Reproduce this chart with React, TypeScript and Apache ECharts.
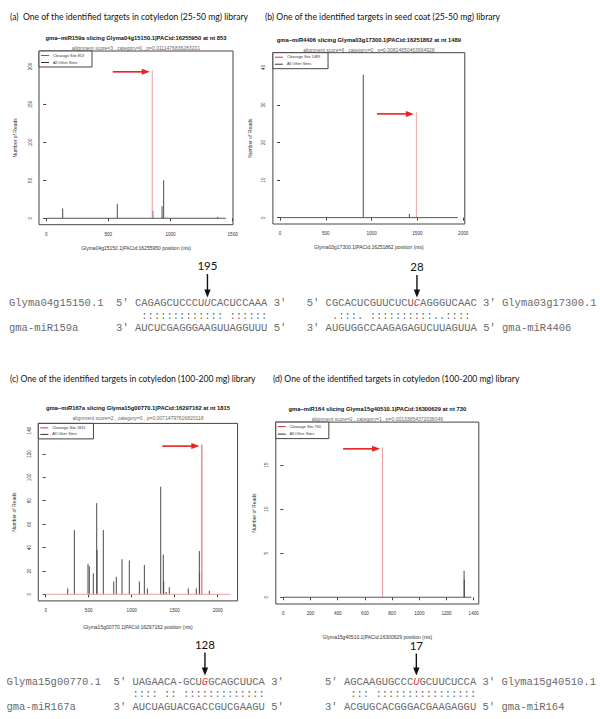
import React, { useEffect, useRef } from "react";
import * as echarts from "echarts";

// ================= degradome plot data =================
// (a) gma-miR159a / Glyma04g15150.1
const aTranscriptLength = 1445;
const aCleavageSite = [853];
const aCleavageReads = [195];
const aOtherSites = [133, 572, 858, 932, 945, 1380];
const aOtherReads = [13, 19, 10, 16, 50, 2];
const aXTicks = [0, 500, 1000, 1500];
const aYTicks = [0, 50, 100, 150, 200];

// (b) gma-miR4406 / Glyma03g17300.1
const bTranscriptLength = 1940;
const bCleavageSite = [1489];
const bCleavageReads = [28];
const bOtherSites = [909, 1412];
const bOtherReads = [38, 1];
const bXTicks = [0, 500, 1000, 1500, 2000];
const bYTicks = [0, 10, 20, 30, 40];

// (c) gma-miR167a / Glyma15g00770.1
const cTranscriptLength = 2145;
const cCleavageSite = [1815];
const cCleavageReads = [128];
const cOtherSites = [256, 333, 492, 507, 554, 593, 597, 670, 791, 821, 887, 972, 1089, 1147, 1182, 1337, 1367, 1372, 1400, 1437, 1658, 1751, 1786, 1789, 1902];
const cOtherReads = [5, 55, 26, 24, 18, 78, 38, 55, 11, 15, 30, 29, 11, 25, 5, 92, 34, 11, 2, 6, 5, 5, 37, 18, 3];
const cXTicks = [0, 500, 1000, 1500, 2000];
const cYTicks = [0, 20, 40, 60, 80, 100, 120, 140];

// (d) gma-miR164 / Glyma15g40510.1
const dTranscriptLength = 1382;
const dCleavageSite = [730];
const dCleavageReads = [17];
const dOtherSites = [1329, 1331];
const dOtherReads = [3, 2];
const dXTicks = [0, 200, 400, 600, 800, 1000, 1200, 1400];
const dYTicks = [0, 5, 10, 15];

// ================= texts =================
const panelHeaders = [
  "(a)  One of the identified targets in cotyledon (25-50 mg) library",
  "(b) One of the identified targets in seed coat (25-50 mg) library",
  "(c) One of the identified targets in cotyledon (100-200 mg) library",
  "(d) One of the identified targets in cotyledon (100-200 mg) library",
];
const plotTitles = [
  "gma\u2212miR159a slicing Glyma04g15150.1|PACid:16255950 at nt 853",
  "gma\u2212miR4406 slicing Glyma03g17300.1|PACid:16251862 at nt 1489",
  "gma\u2212miR167a slicing Glyma15g00770.1|PACid:16297162 at nt 1815",
  "gma\u2212miR164 slicing Glyma15g40510.1|PACid:16300629 at nt 730",
];
const plotSubtitles = [
  "alignment score=3 , category=0 , p=0.0111476836283201",
  "alignment score=6 , category=0 , p=0.00824650463964928",
  "alignment score=2 , category=0 , p=0.00714797616820118",
  "alignment score=2 , category=1 , p=0.00133854372038046",
];
const xAxisNames = [
  "Glyma04g15150.1|PACid:16255950 position (nts)",
  "Glyma03g17300.1|PACid:16251862 position (nts)",
  "Glyma15g00770.1|PACid:16297162 position (nts)",
  "Glyma15g40510.1|PACid:16300629 position (nts)",
];

// ================= alignments =================
const aTargetName = "Glyma04g15150.1";
const aMirName = "gma-miR159a";
const aTargetSeq = ["CAGAGCUCCCU", "U", "CACUCCAAA"];
const aPairs = " ::::::::::::: ::::::";
const aMirSeq = "AUCUCGAGGGAAGUUAGGUUU";
const aSliceReads = "195";

const bTargetName = "Glyma03g17300.1";
const bMirName = "gma-miR4406";
const bTargetSeq = ["CGCACUCGUUCUCU", "C", "AGGGUCAAC"];
const bPairs = " .:::. ::::::::::..::::";
const bMirSeq = "AUGUGGCCAAGAGAGUCUUAGUUA";
const bSliceReads = "28";

const cTargetName = "Glyma15g00770.1";
const cMirName = "gma-miR167a";
const cTargetSeq = ["UAGAACA-GCU", "G", "GCAGCUUCA"];
const cPairs = ":::: :: :::::::::::::";
const cMirSeq = "AUCUAGUACGACCGUCGAAGU";
const cSliceReads = "128";

const dTargetName = "Glyma15g40510.1";
const dMirName = "gma-miR164";
const dTargetSeq = ["AGCAAGUGCCC", "U", "GCUUCUCCA"];
const dPairs = " ::: ::::::::::::::::";
const dMirSeq = "ACGUGCACGGGACGAAGAGGU";
const dSliceReads = "17";

// ================= layout / style =================
const FONT_R = '"Liberation Sans", Arial, sans-serif';
const FONT_MONO = '"Liberation Mono", monospace';
const FONT_DOC = 'Lato, "Open Sans", sans-serif';
const MONO_SIZE = 10.5;
const CW = MONO_SIZE * 0.6;

const panelData = [
  { len: aTranscriptLength, site: aCleavageSite, siteReads: aCleavageReads, other: aOtherSites, otherReads: aOtherReads, xTicks: aXTicks, yTicks: aYTicks },
  { len: bTranscriptLength, site: bCleavageSite, siteReads: bCleavageReads, other: bOtherSites, otherReads: bOtherReads, xTicks: bXTicks, yTicks: bYTicks },
  { len: cTranscriptLength, site: cCleavageSite, siteReads: cCleavageReads, other: cOtherSites, otherReads: cOtherReads, xTicks: cXTicks, yTicks: cYTicks },
  { len: dTranscriptLength, site: dCleavageSite, siteReads: dCleavageReads, other: dOtherSites, otherReads: dOtherReads, xTicks: dXTicks, yTicks: dYTicks },
];

const layouts = [
  { box: [39, 51, 233, 224.7], yTop: 212, headerX: 10, headerY: 17, titleY: 37.7, subY: 47.7, yNameGap: 21.5, xNameGap: 20.5, base: "#555", red: "#f09a9a", legendH: 2 },
  { box: [272.9, 52.7, 464.8, 224.0], yTop: 42.2, headerX: 265, headerY: 17, titleY: 40, subY: 50, yNameGap: 20.5, xNameGap: 20.4, base: "#555", red: "#f3a3a3", legendH: 2 },
  { box: [38.3, 423.4, 237.6, 600.9], yTop: 140.5, headerX: 10, headerY: 379, titleY: 408.3, subY: 418.3, yNameGap: 21.5, xNameGap: 23.5, base: "#e8a0a0", red: "#e85050", legendH: 1.5 },
  { box: [275.8, 422.1, 478.8, 604.0], yTop: 19.1, headerX: 273, headerY: 379, titleY: 409.3, subY: 419, yNameGap: 19.5, xNameGap: 30.5, base: "#555", red: "#f09a9a", legendH: 2.5 },
];

const alignments = [
  { side: "left", x0: 9, y1: 303.3, labelY: 265, arrowTop: 274, arrowTip: 297.5, tName: aTargetName, mName: aMirName, tSeq: aTargetSeq, pairs: aPairs, mSeq: aMirSeq, reads: aSliceReads },
  { side: "right", x0: 306.7, y1: 303.3, labelY: 266, arrowTop: 275, arrowTip: 297.5, tName: bTargetName, mName: bMirName, tSeq: bTargetSeq, pairs: bPairs, mSeq: bMirSeq, reads: bSliceReads },
  { side: "left", x0: 6.5, y1: 681.7, labelY: 644, arrowTop: 652.5, arrowTip: 675.5, tName: cTargetName, mName: cMirName, tSeq: cTargetSeq, pairs: cPairs, mSeq: cMirSeq, reads: cSliceReads },
  { side: "right", x0: 325, y1: 681.7, labelY: 645, arrowTop: 653.5, arrowTip: 675.5, tName: dTargetName, mName: dMirName, tSeq: dTargetSeq, pairs: dPairs, mSeq: dMirSeq, reads: dSliceReads },
];
const ROW_STEP = 12.5;

const nb = (s: string) => s.replace(/ /g, "\u00A0");
const monoStyle = { fontFamily: FONT_MONO, fontSize: MONO_SIZE, fill: "#6a6a6a" };
const redStyle = { fontFamily: FONT_MONO, fontSize: MONO_SIZE, fill: "#e8383d", fontStyle: "italic" };

function monoText(x: number, y: number, s: string) {
  return { type: "text", x, y, silent: true, style: { text: nb(s), ...monoStyle, align: "left", verticalAlign: "middle" } };
}
function richRow(x: number, y: number, before: string, red: string, after: string) {
  return {
    type: "text", x, y, silent: true,
    style: {
      text: `{n|${nb(before)}}{r|${red}}{n|${nb(after)}}`,
      align: "left", verticalAlign: "middle",
      rich: { n: monoStyle, r: redStyle },
    },
  };
}
function blackArrow(x: number, top: number, tip: number) {
  return [
    { type: "line", silent: true, shape: { x1: x, y1: top, x2: x, y2: tip - 6 }, style: { stroke: "#111", lineWidth: 1.4 } },
    { type: "polygon", silent: true, shape: { points: [[x - 3.2, tip - 8], [x + 3.2, tip - 8], [x, tip]] }, style: { fill: "#111" } },
  ];
}

function buildStaticGraphics() {
  const g: any[] = [];
  layouts.forEach((L, i) => {
    const cx = (L.box[0] + L.box[2]) / 2;
    g.push({ type: "text", x: L.headerX, y: L.headerY, silent: true, style: { text: panelHeaders[i], font: `8.6px ${FONT_DOC}`, fill: "#111", align: "left", verticalAlign: "middle" } });
    g.push({ type: "text", x: cx, y: L.titleY, silent: true, style: { text: plotTitles[i], font: `bold 5.8px ${FONT_R}`, fill: "#111", align: "center", verticalAlign: "middle" } });
    g.push({ type: "text", x: cx, y: L.subY, silent: true, style: { text: plotSubtitles[i], font: `5px ${FONT_R}`, fill: "#666", align: "center", verticalAlign: "middle" } });
  });
  alignments.forEach((A) => {
    const y1 = A.y1, y2 = A.y1 + ROW_STEP, y3 = A.y1 + 2 * ROW_STEP;
    let redCol: number;
    if (A.side === "left") {
      const lead1 = A.tName.padEnd(17, " ") + "5' ";
      g.push(richRow(A.x0, y1, lead1 + A.tSeq[0], A.tSeq[1], A.tSeq[2] + " 3'"));
      g.push(monoText(A.x0 + 20 * CW, y2, A.pairs));
      g.push(monoText(A.x0, y3, A.mName.padEnd(17, " ") + "3' " + A.mSeq + " 5'"));
      redCol = lead1.length + A.tSeq[0].length;
    } else {
      g.push(richRow(A.x0, y1, "5' " + A.tSeq[0], A.tSeq[1], A.tSeq[2] + " 3' " + A.tName));
      g.push(monoText(A.x0 + 3 * CW, y2, A.pairs));
      g.push(monoText(A.x0, y3, "3' " + A.mSeq + " 5' " + A.mName));
      redCol = 3 + A.tSeq[0].length;
    }
    const ax = A.x0 + (redCol + 0.5) * CW;
    g.push({ type: "text", x: ax, y: A.labelY, silent: true, style: { text: A.reads, font: `11.5px ${FONT_DOC}`, fill: "#111", align: "center", verticalAlign: "middle" } });
    g.push(...blackArrow(ax, A.arrowTop, A.arrowTip));
  });
  return g;
}

function stickRenderer(color: string) {
  return (params: any, api: any) => {
    const base = api.coord([api.value(0), 0]);
    const top = api.coord([api.value(0), api.value(1)]);
    return { type: "line", shape: { x1: base[0], y1: base[1], x2: top[0], y2: top[1] }, style: { stroke: color, lineWidth: 1 } };
  };
}

const plainNumber = (v: number) => String(v);

export default function App() {
  const ref = useRef<HTMLDivElement>(null);
  useEffect(() => {
    const chart = echarts.init(ref.current!, null, { renderer: "svg" });
    const grids: any[] = [], xAxes: any[] = [], yAxes: any[] = [], series: any[] = [], legends: any[] = [];
    panelData.forEach((P, i) => {
      const L = layouts[i];
      const [l, t, r, b] = L.box;
      grids.push({ left: l, top: t, width: r - l, height: b - t, show: true, borderColor: "#444", borderWidth: 1, backgroundColor: "transparent", containLabel: false, outerBoundsMode: "none" });
      xAxes.push({
        type: "value", gridIndex: i, min: -0.04 * P.len, max: 1.04 * P.len,
        axisLine: { show: false }, splitLine: { show: false },
        axisTick: { show: true, length: 3, lineStyle: { color: "#444", width: 1 }, customValues: P.xTicks },
        axisLabel: { customValues: P.xTicks, formatter: plainNumber, fontSize: 4.6, fontFamily: FONT_R, color: "#333", margin: 7 },
        name: xAxisNames[i], nameLocation: "middle", nameGap: L.xNameGap, nameMoveOverlap: false,
        nameTextStyle: { fontSize: 5, fontFamily: FONT_R, color: "#333" },
      });
      yAxes.push({
        type: "value", gridIndex: i, min: -0.04 * L.yTop, max: 1.04 * L.yTop,
        axisLine: { show: false }, splitLine: { show: false },
        axisTick: { show: true, length: 3, lineStyle: { color: "#444", width: 1 }, customValues: P.yTicks },
        axisLabel: { customValues: P.yTicks, formatter: plainNumber, rotate: 90, fontSize: 4.6, fontFamily: FONT_R, color: "#333", margin: 6.5 },
        name: "Number of Reads", nameLocation: "middle", nameRotate: 90, nameGap: L.yNameGap, nameMoveOverlap: false,
        nameTextStyle: { fontSize: 5, fontFamily: FONT_R, color: "#333" },
      });
      const siteName = `Cleavage Site ${P.site[0]}`;
      series.push({
        type: "line", xAxisIndex: i, yAxisIndex: i, silent: true, symbol: "none", name: `baseline ${i}`,
        data: [[0, 0], [P.len, 0]], lineStyle: { color: L.base, width: 1 },
      });
      series.push({
        type: "custom", name: "All Other Sites", coordinateSystem: "cartesian2d", xAxisIndex: i, yAxisIndex: i, silent: true,
        encode: { x: 0, y: 1 }, data: P.other.map((p, k) => [p, P.otherReads[k]]), renderItem: stickRenderer("#4a4a4a"),
      });
      series.push({
        type: "custom", name: siteName, coordinateSystem: "cartesian2d", xAxisIndex: i, yAxisIndex: i, silent: true,
        encode: { x: 0, y: 1 }, data: P.site.map((p, k) => [p, P.siteReads[k]]), renderItem: stickRenderer(L.red),
      });
      legends.push({
        left: l, top: t, orient: "vertical", selectedMode: false,
        data: [
          { name: siteName, icon: "rect", itemStyle: { color: "#e83030" } },
          { name: "All Other Sites", icon: "rect", itemStyle: { color: "#333" } },
        ],
        itemWidth: 8, itemHeight: 1, itemGap: L.legendH,
        textStyle: { fontSize: 3.8, lineHeight: 5, fontFamily: FONT_R, color: "#333", padding: [0, 0, 0, -1] },
        borderColor: "#444", borderWidth: 1, padding: [2, 8, 2, 2], backgroundColor: "#fff",
      });
    });

    chart.setOption({
      animation: false,
      backgroundColor: "#fff",
      grid: grids, xAxis: xAxes, yAxis: yAxes, series, legend: legends,
    });

    const graphics = buildStaticGraphics();
    panelData.forEach((P, i) => {
      const pt = chart.convertToPixel({ gridIndex: i } as any, [P.site[0], P.siteReads[0]]) as number[];
      const tipX = pt[0] - 2.5, y = pt[1] + 1.5;
      graphics.push({ type: "line", silent: true, shape: { x1: tipX - 37, y1: y, x2: tipX - 6, y2: y }, style: { stroke: "#e8201f", lineWidth: 1.6 } });
      graphics.push({ type: "polygon", silent: true, shape: { points: [[tipX - 8, y - 3], [tipX, y], [tipX - 8, y + 3]] }, style: { fill: "#e8201f" } });
    });
    chart.setOption({ graphic: graphics });

    return () => chart.dispose();
  }, []);
  return <div ref={ref} style={{ position: "fixed", left: 0, top: 0, width: 600, height: 719, background: "#fff" }} />;
}
